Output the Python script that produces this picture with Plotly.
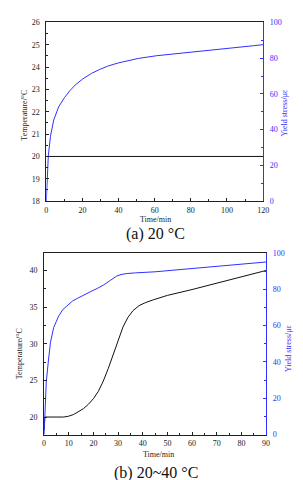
import plotly.graph_objects as go

# ---- data (a) 20 °C ----
a_time_stress = [0, 0.55, 1.1, 2.3, 4.1, 6.8, 10, 13.1, 16, 20, 25, 29.3, 34, 40, 46, 51, 61, 70, 78.6, 88, 96.6, 106, 114.6, 120]
a_stress = [0, 19.8, 25.3, 36.3, 45.4, 52.7, 57.9, 61.9, 65.0, 68.3, 71.5, 73.6, 75.6, 77.4, 78.9, 79.9, 81.4, 82.3, 83.0, 84.2, 85.2, 86.1, 87.0, 87.6]
a_time_temp = [0, 120]
a_temp = [20, 20]

# ---- data (b) 20~40 °C ----
b_time_stress = [0, 0.4, 0.9, 1.7, 2.6, 3.9, 5.9, 7.6, 9.8, 11.6, 13.7, 16, 19, 21.5, 24.2, 27, 29.4, 31.2, 33.3, 37, 41, 45, 60, 75, 90]
b_stress = [0, 16.6, 29, 40, 50.8, 59, 65.2, 68.8, 71.6, 73.6, 75.1, 76.8, 78.8, 80.4, 82.4, 85.0, 87.2, 88.1, 88.6, 89.0, 89.3, 89.6, 91.4, 93.2, 95]
b_time_temp = [0, 0.3, 8, 10, 12, 14, 16, 18, 20, 22, 24, 26, 28, 30, 32, 34, 36, 38.5, 41, 44.3, 50, 60, 70, 80, 90]
b_temp = [18.2, 20, 20, 20.12, 20.35, 20.7, 21.15, 21.75, 22.5, 23.5, 24.9, 26.6, 28.6, 30.6, 32.3, 33.6, 34.5, 35.2, 35.6, 36.0, 36.6, 37.4, 38.3, 39.1, 40]

W, H = 303, 480
BLUE = "#3030ff"
FONT = "Liberation Serif"

def dx(px):
    return px / W

def dy(py):
    return 1 - py / H

fig = go.Figure()
fig.add_trace(go.Scatter(x=a_time_temp, y=a_temp, mode="lines", line=dict(color="#111", width=1),
                         xaxis="x", yaxis="y", showlegend=False))
fig.add_trace(go.Scatter(x=a_time_stress, y=a_stress, mode="lines", line=dict(color=BLUE, width=1),
                         xaxis="x", yaxis="y2", showlegend=False))
fig.add_trace(go.Scatter(x=b_time_temp, y=b_temp, mode="lines", line=dict(color="#111", width=1),
                         xaxis="x2", yaxis="y3", showlegend=False))
fig.add_trace(go.Scatter(x=b_time_stress, y=b_stress, mode="lines", line=dict(color=BLUE, width=1),
                         xaxis="x2", yaxis="y4", showlegend=False))

tickfont = dict(family=FONT, size=8, color="#222")
bluefont = dict(family=FONT, size=8, color=BLUE)

def xax(domain, rng, dtick, anchor):
    return dict(domain=domain, range=rng, dtick=dtick, anchor=anchor, showgrid=False, zeroline=False,
                showline=True, linecolor="#222", linewidth=1, mirror=True,
                ticks="inside", ticklen=3, tickcolor="#222", tickfont=tickfont, ticklabelstandoff=1,
                minor=dict(ticks="inside", ticklen=2, dtick=dtick / 2, tickcolor="#222"))

def yax(domain, rng, dtick, anchor, color, font, side="left", overlaying=None):
    d = dict(domain=domain, range=rng, dtick=dtick, anchor=anchor, showgrid=False, zeroline=False,
             showline=True, linecolor=color, linewidth=1, side=side,
             ticks="inside", ticklen=3, tickcolor=color, tickfont=font, ticklabelstandoff=4,
             minor=dict(ticks="inside", ticklen=2, dtick=dtick / 2, tickcolor=color))
    if overlaying:
        d["overlaying"] = overlaying
    return d

a_xd = [dx(37.3), dx(260)]
a_yd = [dy(192.7), dy(10.7)]
b_xd = [dx(35), dx(263)]
b_yd = [dy(430.7), dy(245.5)]

fig.update_layout(
    width=W, height=H, margin=dict(l=0, r=0, t=0, b=0),
    paper_bgcolor="white", plot_bgcolor="white",
    xaxis=xax(a_xd, [0, 120], 20, "y"),
    yaxis=yax(a_yd, [18, 26], 1, "x", "#222", tickfont),
    yaxis2=yax(a_yd, [0, 100], 20, "x", BLUE, bluefont, side="right", overlaying="y"),
    xaxis2=xax(b_xd, [0, 90], 10, "y3"),
    yaxis3=yax(b_yd, [17.6, 42.4], 5, "x2", "#222", tickfont),
    yaxis4=yax(b_yd, [0, 100], 20, "x2", BLUE, bluefont, side="right", overlaying="y3"),
)

def ann(text, x, y, size=8, color="#222", angle=0):
    fig.add_annotation(text=text, x=dx(x), y=dy(y), xref="paper", yref="paper",
                       showarrow=False, xanchor="center", yanchor="middle", textangle=angle,
                       font=dict(family=FONT, size=size, color=color))

ann("Temperature/°C", 14, 105, angle=-90)
ann("Yield stress/με", 282, 103, color=BLUE, angle=-90)
ann("Time/min", 149, 211.5)
ann("(a) 20 °C", 149.5, 226.5, size=16, color="#111")

ann("Temperature/°C", 10, 348, angle=-90)
ann("Yield stress/με", 286, 342, color=BLUE, angle=-90)
ann("Time/min", 153, 451)
ann("(b) 20~40 °C", 149.5, 470, size=16, color="#111")

fig.write_html("out.html")
